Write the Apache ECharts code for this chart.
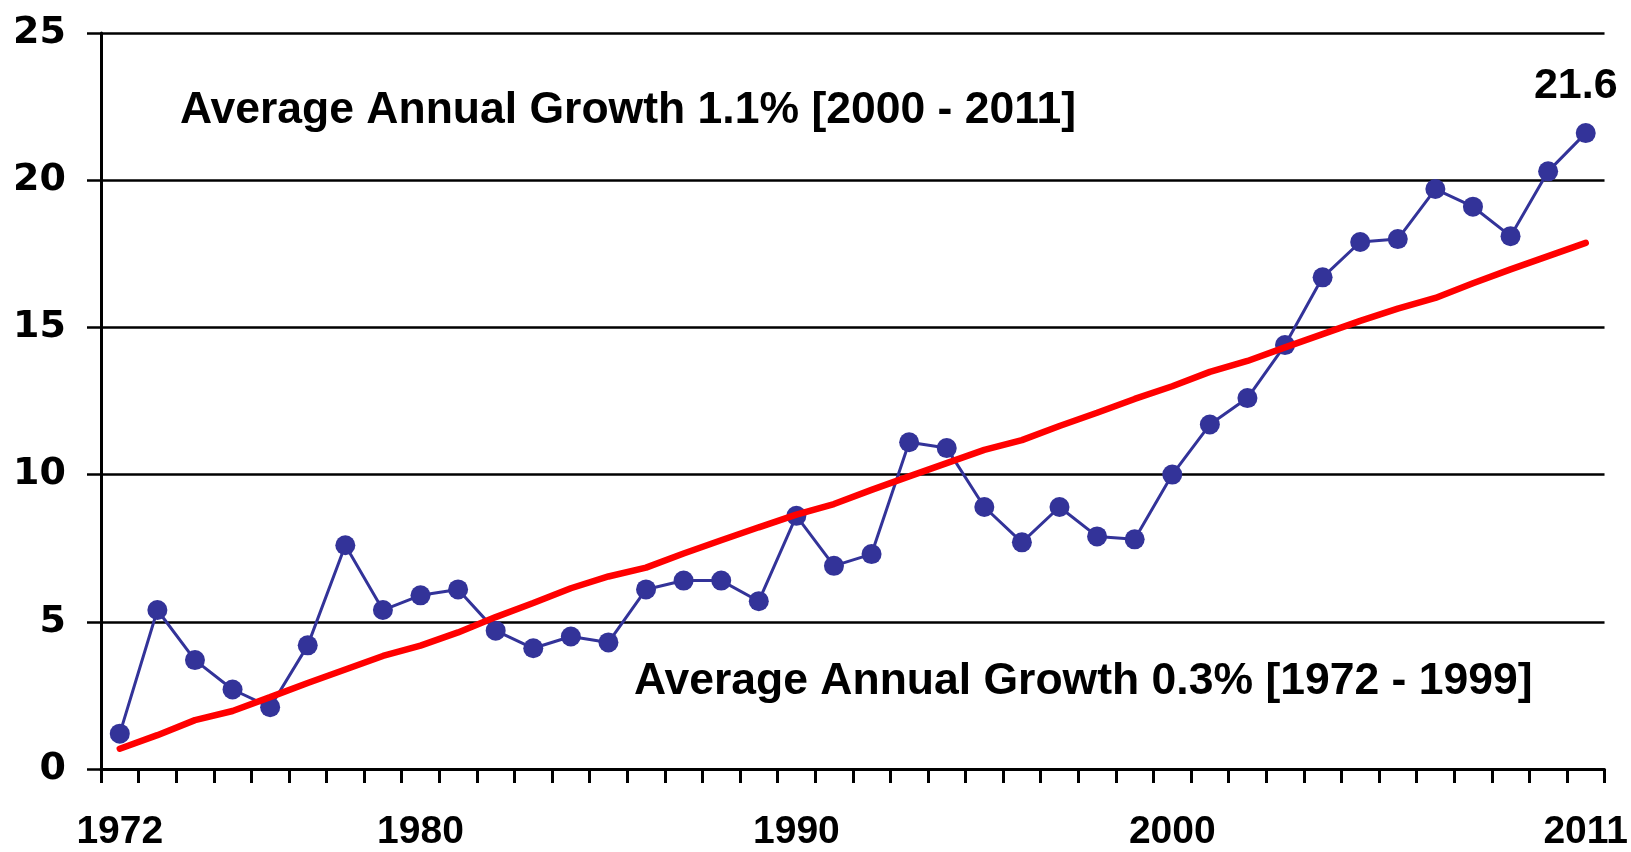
<!DOCTYPE html>
<html>
<head>
<meta charset="utf-8">
<script src="https://cdn.jsdelivr.net/npm/echarts@6/dist/echarts.min.js"></script>
<style>
html,body{margin:0;padding:0;background:#fff;}
#chart{width:1631px;height:852px;}
</style>
</head>
<body>
<div id="chart"></div>
<script>
const years = [1972,1973,1974,1975,1976,1977,1978,1979,1980,1981,1982,1983,1984,1985,1986,1987,1988,1989,1990,1991,1992,1993,1994,1995,1996,1997,1998,1999,2000,2001,2002,2003,2004,2005,2006,2007,2008,2009,2010,2011];
const actualValues = [1.2,5.4,3.7,2.7,2.1,4.2,7.6,5.4,5.9,6.1,4.7,4.1,4.5,4.3,6.1,6.4,6.4,5.7,8.6,6.9,7.3,11.1,10.9,8.9,7.7,8.9,7.9,7.8,10.0,11.7,12.6,14.4,16.7,17.9,18.0,19.7,19.1,18.1,20.3,21.6];
const trendValues = [0.69,1.15,1.66,1.97,2.44,2.92,3.38,3.84,4.19,4.64,5.16,5.64,6.14,6.54,6.84,7.32,7.77,8.21,8.64,9.0,9.48,9.94,10.39,10.84,11.17,11.65,12.1,12.57,13.0,13.49,13.86,14.32,14.77,15.22,15.64,16.0,16.5,16.97,17.42,17.87];
const shownYearLabels = [1972,1980,1990,2000,2011];
const yTicks = [0,5,10,15,20,25];
const annotationRecent = 'Average Annual Growth 1.1% [2000 - 2011]';
const annotationEarly = 'Average Annual Growth 0.3% [1972 - 1999]';

const chart = echarts.init(document.getElementById('chart'), null, {renderer:'canvas'});
const lastIdx = actualValues.length - 1;
const blueData = actualValues.map((v,i) => i === lastIdx ? {
  value: v,
  label: {show:true, position:'top', distance:15, offset:[-10,0], formatter: String(v),
          fontFamily:'"Liberation Sans", Arial, sans-serif', fontWeight:'bold', fontSize:43, color:'#000', lineHeight:43}
} : v);

chart.setOption({
  animation:false,
  backgroundColor:'#ffffff',
  grid:{left:101, right:24, top:33, bottom:81, containLabel:false},
  xAxis:{
    type:'category',
    data: years.map(String),
    boundaryGap:true,
    axisLine:{show:true, lineStyle:{color:'#000', width:3}},
    axisTick:{show:true, interval:0, length:14, inside:false, lineStyle:{color:'#000', width:3}},
    axisLabel:{
      interval:(i, v) => shownYearLabels.indexOf(Number(v)) >= 0,
      margin:44, color:'#000', fontFamily:'"Liberation Sans", Arial, sans-serif', fontWeight:'bold', fontSize:39
    },
    splitLine:{show:false}
  },
  yAxis:{
    type:'value',
    min:yTicks[0], max:yTicks[yTicks.length-1], interval:5,
    axisLine:{show:true, lineStyle:{color:'#000', width:3}},
    axisTick:{show:true, length:14, lineStyle:{color:'#000', width:2.5}},
    axisLabel:{margin:35, color:'#000', fontFamily:'"DejaVu Sans", sans-serif', fontWeight:'bold', fontSize:38},
    splitLine:{show:true, lineStyle:{color:'#000', width:2.5}}
  },
  series:[
    {
      type:'line', name:'actual', data: blueData,
      symbol:'circle', symbolSize:20, showSymbol:true,
      itemStyle:{color:'#333399'},
      lineStyle:{color:'#333399', width:3},
      z:2
    },
    {
      type:'line', name:'trend', data: trendValues,
      symbol:'none', showSymbol:false,
      lineStyle:{color:'#ff0000', width:6.5, cap:'round'},
      z:3
    }
  ],
  graphic:[
    {type:'text', left:180, top:88, z:10,
     style:{text:annotationRecent, fill:'#000', font:'bold 44.5px "Liberation Sans", Arial, sans-serif'}},
    {type:'text', left:634, top:659, z:10,
     style:{text:annotationEarly, fill:'#000', font:'bold 44.5px "Liberation Sans", Arial, sans-serif'}}
  ]
});
</script>
</body>
</html>
